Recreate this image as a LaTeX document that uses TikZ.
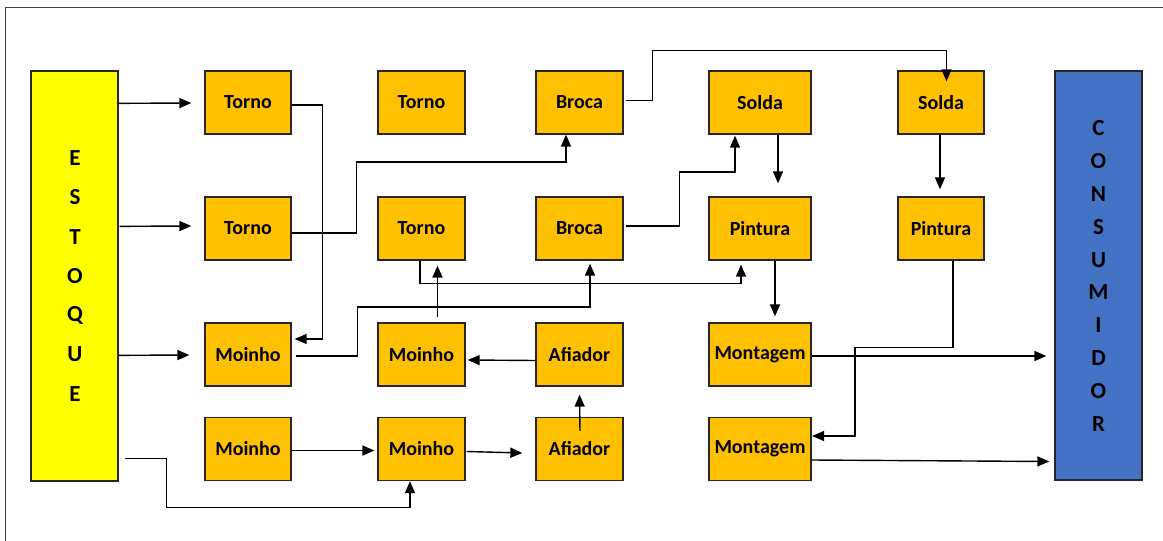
\documentclass[tikz,border=0pt]{standalone}
\usepackage{fontspec}
\setmainfont{Carlito}
\usetikzlibrary{arrows.meta,calc}
\definecolor{boxorange}{HTML}{FFC000}
\definecolor{stockyellow}{HTML}{FFFF00}
\definecolor{consblue}{HTML}{4472C4}
\definecolor{edgegray}{HTML}{262626}
\definecolor{framegray}{HTML}{404040}
\begin{document}
\begin{tikzpicture}[x=1pt,y=-1pt,
  procbox/.style={draw=edgegray,line width=1.3pt,fill=boxorange,minimum width=86pt,minimum height=63pt,inner sep=0pt,
    font=\bfseries\fontsize{20}{24}\selectfont},
  widebox/.style={procbox,minimum width=102pt},
  tallbox/.style={draw=edgegray,line width=1.3pt,minimum width=87pt,minimum height=410pt,inner sep=0pt},
  vlet/.style={font=\bfseries\fontsize{23}{27}\selectfont,inner sep=0pt},
  conn/.style={draw=black,line width=1.4pt},
  arr/.style={conn,-{Triangle[length=12pt,width=10pt]}}]
\useasboundingbox (0,0) rectangle (1163,541);
% frame
\draw[framegray,line width=1.4pt] (5.7,541) -- (5.7,7.7) -- (1163,7.7);
% stock and consumer
\node[tallbox,fill=stockyellow] (est) at (74.5,276) {};
\node[tallbox,fill=consblue,minimum height=409pt] (cons) at (1098.5,275.5) {};
\foreach \l [count=\i from 0] in {E,S,T,O,Q,U,E}
  \node[vlet] (estl\i) at (75,{158+39.3*\i}) {\l};
\foreach \l [count=\i from 0] in {C,O,N,S,U,M,I,D,O,R}
  \node[vlet] (consl\i) at (1098.5,{128.5+32.8*\i}) {\l};
% process boxes
\node[procbox] (t1) at (248,102.5) {Torno};
\node[procbox] (t2) at (248,228.5) {Torno};
\node[procbox] (m1) at (248,354.5) {Moinho};
\node[procbox] (m4a) at (248,449) {Moinho};
\node[procbox,minimum width=87pt] (tc1) at (421.5,102.5) {Torno};
\node[procbox,minimum width=87pt] (tc2) at (421.5,228.5) {Torno};
\node[procbox,minimum width=87pt] (mb3) at (421.5,354.5) {Moinho};
\node[procbox,minimum width=87pt] (m4b) at (421.5,449) {Moinho};
\node[procbox,minimum width=87pt] (b1) at (579.5,102.5) {Broca};
\node[procbox,minimum width=87pt] (b2) at (579.5,228.5) {Broca};
\node[procbox,minimum width=87pt] (a1) at (579.5,354.5) {Afiador};
\node[procbox,minimum width=87pt] (a2) at (579.5,449) {Afiador};
\node[widebox] (s1) at (760,102.5) {Solda};
\node[widebox] (p1) at (760,228.5) {Pintura};
\node[widebox] (mo1) at (760,354.5) {Montagem};
\node[widebox] (mo2) at (760,449) {Montagem};
\node[procbox] (s2) at (941,102.5) {Solda};
\node[procbox] (p2) at (941,228.5) {Pintura};
% connectors from stock
\draw[arr] ($(est.north east)+(0,33)$) -- ($(t1.west)+(-13,0.5)$);
\draw[arr] ($(est.north east)+(1,156)$) -- ($(t2.west)+(-13,-2.5)$);
\draw[arr] ($(est.north east)+(0,285)$) -- ($(m1.west)+(-15,0.5)$);
\draw[arr] ($(est.south east)+(6,-23)$) -- ++(42,0) -- ++(0,49) -| ($(m4b.south)+(-11.5,0)$);
% column 1 outputs
\draw[arr] ($(t1.east)+(0,2.5)$) -- ++(31,0) |- ($(m1.east)+(3,-15.5)$);
\draw[arr] ($(t2.east)+(0,4.5)$) -- ++(65,0) -- ++(0,-71) -| ($(b1.south)+(-13.5,0)$);
\draw[arr] ($(m1.east)+(4,1.5)$) -- ++(62,0) -- ++(0,-49) -| ($(b2.south)+(10.5,3)$);
\draw[arr] ($(m4a.east)+(0,1.5)$) -- ($(m4b.west)+(-3,1.5)$);
% column 2/3
\draw[arr] ($(b1.east)+(2,-2)$) -- ++(27,0) -- ++(0,-50) -| ($(s2.north)+(5.5,11)$);
\draw[arr] ($(b2.east)+(2,-2.5)$) -- ++(54,0) -- ++(0,-54) -| ($(s1.south)+(-25,1)$);
\draw[arr] ($(mb3.north)+(16,-5)$) -- ($(tc2.south)+(16,5)$);
\draw[arr] ($(tc2.south)+(-1.5,0)$) -- ++(0,23) -| ($(p1.south)+(-19,4)$);
\draw[arr] ($(a1.west)+(0,6)$) -- ($(mb3.east)+(2,5.5)$);
\draw[arr] ($(a2.north)+(0.5,14)$) -- ($(a1.south)+(0,8)$);
\draw[arr] ($(m4b.east)+(1,2.5)$) -- ($(a2.west)+(-13,4)$);
% columns 4/5
\draw[arr] ($(s1.south)+(18,0)$) -- ($(p1.north)+(18,-13)$);
\draw[arr] ($(s2.south)+(-1,0)$) -- ($(p2.north)+(-1,-7)$);
\draw[arr] ($(p1.south)+(15,0)$) -- ($(mo1.north)+(15,-6)$);
\draw[arr] ($(p2.south)+(12,0)$) -- ++(0,87) -- ++(-98,0) |- ($(mo2.east)+(0.5,-13)$);
\draw[arr] ($(mo1.east)+(0,1.5)$) -- ($(mo1.east -| cons.west)+(-8,1.5)$);
\draw[arr] ($(mo2.east)+(0,11)$) -- ($(mo2.east -| cons.west)+(-5,12.5)$);
\end{tikzpicture}
\end{document}
